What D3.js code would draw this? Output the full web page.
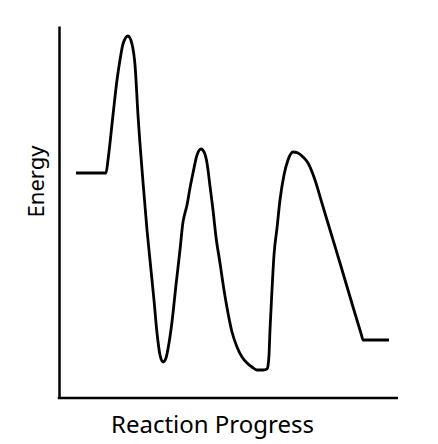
<!DOCTYPE html>
<html>
<head>
<meta charset="utf-8">
<script src="https://cdn.jsdelivr.net/npm/d3@7"></script>
<style>
html,body{margin:0;padding:0;background:#fff;}
svg{display:block;}
text{font-family:"Noto Sans","Open Sans",sans-serif;fill:#000;}
</style>
</head>
<body>
<svg id="chart" width="438" height="444"></svg>
<script>
// Reaction progress (arbitrary units, 0-100) and energy (arbitrary units, 0-100)
const progress = [
   5.01, 13.86, 14.45, 15.93, 17.11, 17.99, 18.88, 20.35, 21.53, 22.42,
  23.30, 24.78, 25.96, 26.84, 28.02, 28.91, 29.79, 30.68, 31.56, 32.45,
  33.33, 34.51, 35.69, 36.58, 36.87, 37.76, 38.64, 39.53, 40.71, 41.89,
  42.77, 43.66, 44.54, 45.43, 46.31, 47.49, 48.67, 49.85, 51.03, 52.51,
  53.98, 55.46, 56.93, 58.41, 60.18, 61.36, 61.65, 61.95, 62.24, 62.83,
  63.42, 64.31, 65.19, 66.37, 67.55, 69.03, 70.50, 71.98, 73.45, 75.52,
  77.29, 79.06, 82.89, 86.73, 89.23, 89.68, 97.35
];
const energy = [
  60.48, 60.48, 63.98, 76.08, 85.48, 90.86, 95.16, 97.31, 95.16, 89.52,
  76.08, 58.06, 45.16, 37.10, 26.34, 17.47, 11.56,  9.68, 10.75, 14.78,
  20.43, 30.38, 39.78, 47.31, 48.66, 51.88, 56.45, 60.48, 65.32, 66.94,
  66.13, 63.17, 56.99, 50.54, 43.28, 36.29, 29.03, 22.85, 17.74, 13.71,
  11.02,  9.41,  8.33,  7.53,  7.53,  7.80,  8.60, 11.56, 18.28, 29.03,
  38.44, 45.70, 53.23, 59.95, 63.98, 66.13, 65.86, 64.78, 63.17, 58.60,
  53.23, 47.85, 36.29, 24.46, 16.94, 15.59, 15.59
];
const axisLabels = {x: "Reaction Progress", y: "Energy"};

const svg = d3.select("#chart");
const x = d3.scaleLinear().domain([0, 100]).range([59, 398]);
const y = d3.scaleLinear().domain([0, 100]).range([398, 26]);

// axes (plain lines, no ticks)
const xAxis = d3.axisBottom(x).tickValues([]).tickSizeOuter(0);
const yAxis = d3.axisLeft(y).tickValues([]).tickSizeOuter(0);
svg.append("g").attr("transform", `translate(0,${y(0)})`).call(xAxis)
  .select(".domain").attr("stroke", "#000").attr("stroke-width", 2.5)
  .attr("d", `M${x(0)-1.25},0H${x(100)}`);
svg.append("g").attr("transform", `translate(${x(0)},0)`).call(yAxis)
  .select(".domain").attr("stroke", "#000").attr("stroke-width", 2.5);

const pts = progress.map((p, i) => [p, energy[i]]);
const line = d3.line().x(d => x(d[0])).y(d => y(d[1])).curve(d3.curveMonotoneX);
svg.append("path").datum(pts).attr("d", line)
  .attr("fill", "none").attr("stroke", "#000").attr("stroke-width", 2.8)
  .attr("stroke-linejoin", "round").attr("stroke-linecap", "butt");

svg.append("text").attr("x", 212.5).attr("y", 433).attr("text-anchor", "middle")
  .attr("font-size", 24).text(axisLabels.x);
svg.append("text").attr("transform", "translate(44,181.5) rotate(-90)")
  .attr("text-anchor", "middle").attr("font-size", 22).text(axisLabels.y);
</script>
</body>
</html>
